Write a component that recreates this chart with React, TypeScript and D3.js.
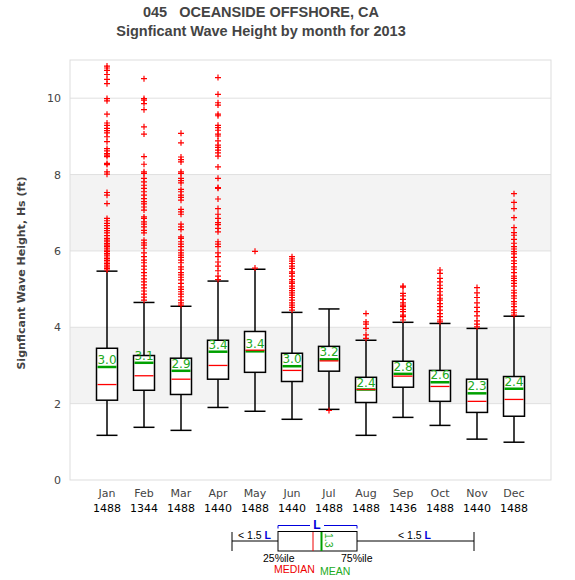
import React from "react";
import * as d3 from "d3";

const months = ["Jan","Feb","Mar","Apr","May","Jun","Jul","Aug","Sep","Oct","Nov","Dec"];
const counts = [1488,1344,1488,1440,1488,1440,1488,1488,1436,1488,1440,1488];
const q1 = [2.09,2.35,2.24,2.64,2.82,2.58,2.85,2.03,2.43,2.06,1.77,1.67];
const q3 = [3.45,3.26,3.19,3.66,3.89,3.32,3.50,2.69,3.11,2.87,2.64,2.71];
const medians = [2.50,2.73,2.64,3.00,3.40,2.87,3.12,2.37,2.72,2.45,2.06,2.11];
const means = [2.96,3.07,2.86,3.36,3.37,2.98,3.16,2.37,2.78,2.56,2.27,2.39];
const whiskLo = [1.17,1.38,1.30,1.90,1.80,1.59,1.85,1.17,1.64,1.43,1.07,0.99];
const whiskHi = [5.47,4.65,4.55,5.21,5.52,4.39,4.48,3.66,4.13,4.10,3.97,4.29];

const outJan = [10.84,10.79,10.73,10.62,10.49,10.38,9.99,9.93,9.58,9.35,9.29,9.21,9.15,9.09,8.99,8.86,8.68,8.62,8.55,8.51,8.47,8.29,8.26,8.07,8.01,7.53,7.46,7.24,6.85,6.79,6.72,6.66,6.59,6.53,6.47,6.40,6.33,6.28,6.24,6.19,6.15,6.11,6.07,6.02,5.98,5.93,5.89,5.84,5.80,5.75,5.71,5.67,5.63,5.58,5.54,5.50];
const outFeb = [10.51,9.99,9.95,9.86,9.70,9.25,9.06,8.47,8.27,8.07,8.03,7.90,7.81,7.72,7.64,7.55,7.46,7.37,7.29,7.23,7.15,7.07,6.89,6.85,6.76,6.70,6.63,6.54,6.47,6.28,6.21,6.15,6.07,5.95,5.85,5.76,5.69,5.60,5.52,5.43,5.35,5.27,5.19,5.11,5.03,4.95,4.87,4.79,4.71];
const outMar = [9.08,8.83,8.46,8.39,8.33,8.07,8.03,7.90,7.84,7.78,7.61,7.55,7.46,7.40,7.33,7.09,7.02,6.96,6.70,6.63,6.56,6.37,6.33,6.24,6.18,6.11,6.02,5.95,5.89,5.83,5.76,5.69,5.58,5.52,5.43,5.37,5.31,5.24,5.15,5.06,4.99,4.93,4.87,4.80,4.71,4.64,4.58];
const outApr = [10.54,10.10,9.88,9.82,9.58,9.54,9.29,9.23,9.16,9.06,9.01,8.88,8.77,8.71,8.64,8.57,8.48,8.20,7.90,7.66,7.64,7.36,7.11,6.96,6.85,6.74,6.69,6.59,6.50,6.24,6.18,6.11,5.95,5.85,5.71,5.60,5.48,5.34,5.25];
const outMay = [5.99,5.55];
const outJun = [5.85,5.79,5.73,5.67,5.60,5.54,5.45,5.41,5.34,5.25,5.19,5.15,5.08,5.02,4.96,4.90,4.84,4.78,4.71,4.64,4.58,4.52,4.45];
const outJul = [1.82];
const outAug = [4.36,4.14,4.08,3.97,3.80,3.71];
const outSep = [5.08,5.05,4.89,4.82,4.73,4.64,4.58,4.54,4.47,4.41,4.32,4.28,4.19];
const outOct = [5.50,5.41,5.28,5.19,5.10,5.02,4.93,4.84,4.76,4.71,4.62,4.54,4.45,4.36,4.28,4.19,4.14];
const outNov = [5.04,4.90,4.78,4.64,4.52,4.41,4.30,4.17,4.08,4.01];
const outDec = [7.50,7.27,7.11,6.87,6.61,6.48,6.41,6.30,6.20,6.11,6.05,5.98,5.92,5.83,5.74,5.67,5.58,5.52,5.43,5.34,5.28,5.22,5.15,5.08,4.97,4.90,4.82,4.76,4.67,4.61,4.54,4.45,4.38,4.32];
const outliers = [outJan,outFeb,outMar,outApr,outMay,outJun,outJul,outAug,outSep,outOct,outNov,outDec];

const yTicks = [0,2,4,6,8,10];
const bands = [[2,4],[6,8]];

const W = 575, H = 580;
const L = 70, R = 551, T = 60, B = 480;

export default function App() {
  const x = d3.scalePoint<string>().domain(months).range([L, R]).padding(1);
  const y = d3.scaleLinear().domain([0, 11]).range([B, T]);
  const bw = 21;
  const font = "DejaVu Sans, sans-serif";
  const lf = "Liberation Sans, Arial, sans-serif";
  return (
    <svg width={W} height={H} style={{ position: "absolute", left: 0, top: 0, background: "#fff" }}>
      <text x={261} y={17} textAnchor="middle" fontFamily={lf} fontWeight="bold" fontSize={14.5} fill="#444" style={{ whiteSpace: "pre" }}>{"045   OCEANSIDE OFFSHORE, CA"}</text>
      <text x={261} y={36} textAnchor="middle" fontFamily={lf} fontWeight="bold" fontSize={14.5} fill="#444">Signficant Wave Height by month for 2013</text>
      <rect x={L} y={T} width={R - L} height={B - T} fill="#fff" />
      {bands.map((b, i) => (
        <rect key={i} x={L} y={y(b[1])} width={R - L} height={y(b[0]) - y(b[1])} fill="#f3f3f3" />
      ))}
      {yTicks.map((t) => (
        <g key={t}>
          {t > 0 && <line x1={L} x2={R} y1={y(t)} y2={y(t)} stroke="#e0e0e0" strokeWidth={1} />}
          <text x={61} y={y(t) + 4} textAnchor="end" fontFamily={font} fontSize={11} fill="#444">{t}</text>
        </g>
      ))}
      <rect x={L} y={T} width={R - L} height={B - T} fill="none" stroke="#ddd" strokeWidth={1} />
      <text transform={`translate(25,${(T + B) / 2 + 3}) rotate(-90)`} textAnchor="middle" fontFamily={font} fontWeight="bold" fontSize={11} fill="#444">Signficant Wave Height, Hs (ft)</text>
      {months.map((m, i) => {
        const cx = x(m)!;
        return (
          <g key={m}>
            <line x1={cx} x2={cx} y1={y(q3[i])} y2={y(whiskHi[i])} stroke="#000" strokeWidth={1.5} />
            <line x1={cx} x2={cx} y1={y(q1[i])} y2={y(whiskLo[i])} stroke="#000" strokeWidth={1.5} />
            <line x1={cx - bw / 2} x2={cx + bw / 2} y1={y(whiskHi[i])} y2={y(whiskHi[i])} stroke="#000" strokeWidth={1.5} />
            <line x1={cx - bw / 2} x2={cx + bw / 2} y1={y(whiskLo[i])} y2={y(whiskLo[i])} stroke="#000" strokeWidth={1.5} />
            <rect x={cx - bw / 2} y={y(q3[i])} width={bw} height={y(q1[i]) - y(q3[i])} fill="#fff" stroke="#000" strokeWidth={1.5} />
            <line x1={cx - bw / 2 + 1} x2={cx + bw / 2 - 1} y1={y(means[i])} y2={y(means[i])} stroke="#00a000" strokeWidth={2.5} />
            <line x1={cx - bw / 2 + 1} x2={cx + bw / 2 - 1} y1={y(medians[i])} y2={y(medians[i])} stroke="#ff0000" strokeWidth={1.3} />
            <text x={cx} y={y(means[i]) - 3} textAnchor="middle" fontFamily={font} fontSize={12} fill="#22aa22">{means[i].toFixed(1)}</text>
            {outliers[i].map((v, j) => (
              <path key={j} d={`M${cx - 3},${y(v)}h6M${cx},${y(v) - 3}v6`} stroke="#ff0000" strokeWidth={1.2} fill="none" />
            ))}
            <text x={cx} y={497} textAnchor="middle" fontFamily={font} fontSize={11} fill="#444">{m}</text>
            <text x={cx} y={512} textAnchor="middle" fontFamily={font} fontSize={11} fill="#000">{counts[i]}</text>
          </g>
        );
      })}
      {/* legend */}
      <g fontFamily={lf} fontSize={10.5}>
        <line x1={232} x2={232} y1={532} y2={551} stroke="#000" strokeWidth={1} />
        <line x1={232} x2={278} y1={541} y2={541} stroke="#000" strokeWidth={1} />
        <line x1={357} x2={474} y1={541} y2={541} stroke="#000" strokeWidth={1} />
        <line x1={474} x2={474} y1={532} y2={551} stroke="#000" strokeWidth={1} />
        <rect x={278} y={531.5} width={79} height={19.5} fill="#fff" stroke="#000" strokeWidth={1} />
        <line x1={313} x2={313} y1={532} y2={551} stroke="#e00" strokeWidth={1} />
        <line x1={321.5} x2={321.5} y1={532} y2={551} stroke="#00a000" strokeWidth={2} />
        <text transform="translate(325,533) rotate(90)" fontSize={10.5} fill="#22aa22">1.3</text>
        <path d="M278,528.5V525.5H310M324,525.5H357V528.5" stroke="#0000dd" strokeWidth={1} fill="none" />
        <text x={317} y={529} textAnchor="middle" fill="#0000dd" fontWeight="bold" fontSize={12}>L</text>
        <text x={238} y={539} fill="#000">{"< 1.5 "}<tspan fill="#0000dd" fontWeight="bold">L</tspan></text>
        <text x={398} y={539} fill="#000">{"< 1.5 "}<tspan fill="#0000dd" fontWeight="bold">L</tspan></text>
        <text x={263} y={562} fill="#000">25%ile</text>
        <text x={341} y={562} fill="#000">75%ile</text>
        <text x={274} y={573} fill="#e00">MEDIAN</text>
        <text x={320} y={575} fill="#22aa22">MEAN</text>
      </g>
    </svg>
  );
}
